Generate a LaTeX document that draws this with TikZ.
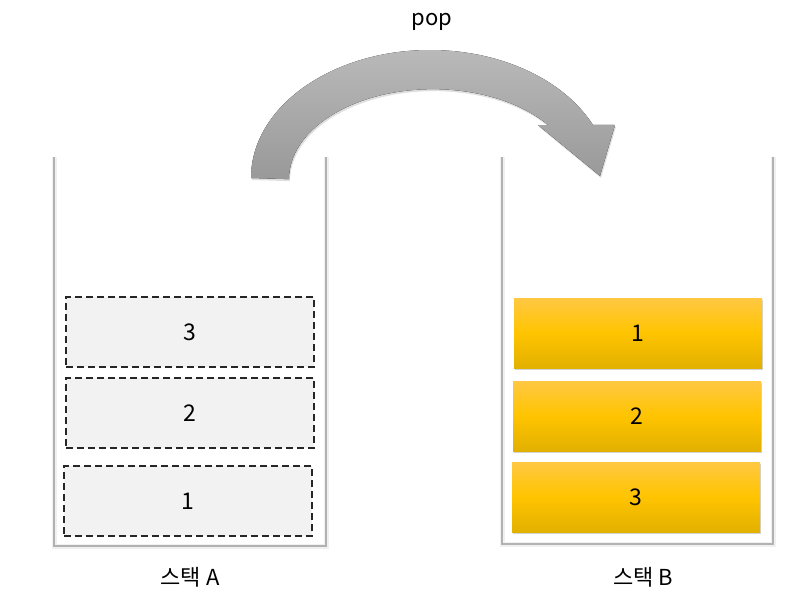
\documentclass[tikz,border=0pt]{standalone}
\usepackage{fontspec}
\setmainfont{Noto Sans CJK KR}
\usepackage{tikz}
\usetikzlibrary{shadows}

\definecolor{boxgray}{HTML}{F2F2F2}
\definecolor{wallgray}{HTML}{B2B2B2}
\definecolor{goldtop}{HTML}{FFC842}
\definecolor{goldmid}{HTML}{FFC400}
\definecolor{goldbot}{HTML}{E2B000}

\begin{document}
\begin{tikzpicture}[x=1pt,y=-1pt,
  wall/.style={line width=2.2pt,draw=wallgray,line join=miter},
  oldbox/.style={draw=black!85,dash pattern=on 7pt off 4pt,line width=1.4pt,fill=boxgray,
    minimum width=248pt,minimum height=70pt,font=\fontsize{23}{26}\selectfont},
  newbox/.style={top color=goldtop,bottom color=goldbot,middle color=goldmid,
    minimum width=248pt,minimum height=70pt,font=\fontsize{23}{26}\selectfont,
    drop shadow={opacity=0.35,shadow xshift=1pt,shadow yshift=-2pt}},
  stacklabel/.style={font=\fontsize{22}{26}\selectfont}]
\useasboundingbox (0,0) rectangle (799,605);
\draw[line width=5pt,draw=black!6] (54,157)--(54,546)--(326,546)--(326,157);
\draw[wall] (54,157)--(54,546)--(326,546)--(326,157);
\draw[line width=5pt,draw=black!6] (502,157)--(502,544)--(773,544)--(773,157);
\draw[wall] (502,157)--(502,544)--(773,544)--(773,157);
\node[oldbox] (a3) at (190,332) {3};
\node[oldbox] (a2) at (190,413) {2};
\node[oldbox] (a1) at (188,501) {1};
\node[newbox] (b1) at (638,333) {1};
\node[newbox] (b2) at (637,416) {2};
\node[newbox] (b3) at (636,497) {3};
\node[stacklabel] (labA) at (190,577) {스택 A};
\node[stacklabel] (labB) at (643,577) {스택 B};
\node[font=\fontsize{22}{26}\selectfont] (pop) at (432,22) {pop};
\fill[top color=gray!55,bottom color=gray!80,
  drop shadow={opacity=0.25,shadow xshift=1pt,shadow yshift=-2pt}]
  (251,178) arc[start angle=180,end angle=335.5,x radius=179,y radius=128]
  -- (615,125) -- (600,176) -- (538,125) -- (548,125)
  arc[start angle=323,end angle=180,x radius=144,y radius=90] -- cycle;
\end{tikzpicture}
\end{document}
